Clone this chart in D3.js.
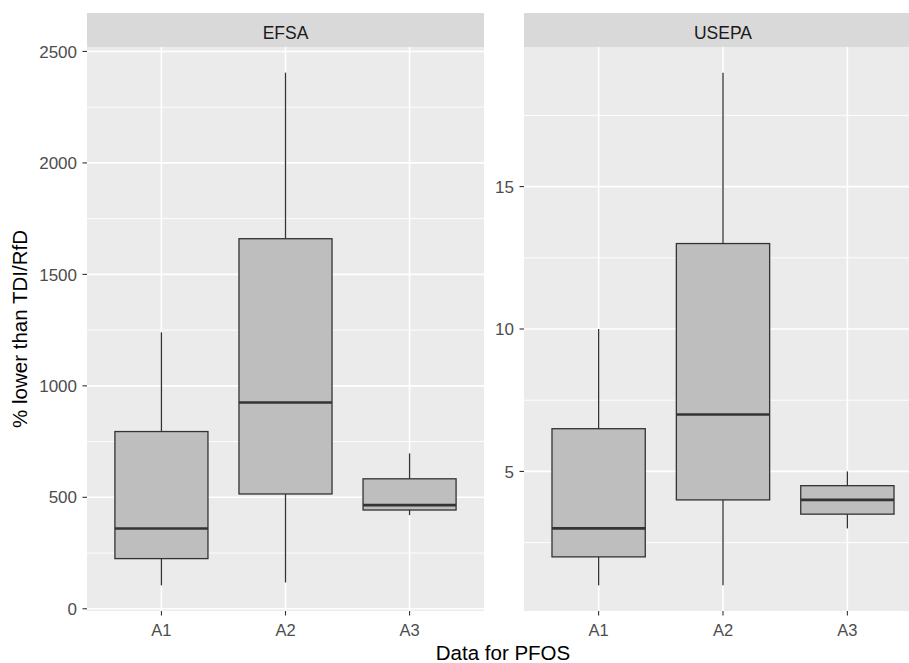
<!DOCTYPE html>
<html>
<head>
<meta charset="utf-8">
<script src="https://cdn.jsdelivr.net/npm/d3@7/dist/d3.min.js"></script>
<style>
  html, body { margin: 0; padding: 0; background: #ffffff; }
  svg { display: block; font-family: "Liberation Sans", Arial, sans-serif; }
</style>
</head>
<body>
<svg id="chart" width="909" height="663"></svg>
<script>
// ---- data ----
const categories = ["A1", "A2", "A3"];
const panels = ["EFSA", "USEPA"];

const efsaLower  = [105, 118, 420];
const efsaQ1     = [225, 515, 443];
const efsaMedian = [360, 925, 465];
const efsaQ3     = [795, 1660, 583];
const efsaUpper  = [1240, 2405, 697];

const usepaLower  = [1, 1, 3];
const usepaQ1     = [2, 4, 3.5];
const usepaMedian = [3, 7, 4];
const usepaQ3     = [6.5, 13, 4.5];
const usepaUpper  = [10, 19, 5];

const efsaTicks = [0, 500, 1000, 1500, 2000, 2500];
const efsaMinor = [250, 750, 1250, 1750, 2250];
const usepaTicks = [5, 10, 15];
const usepaMinor = [2.5, 7.5, 12.5, 17.5];

const xTitle = "Data for PFOS";
const yTitle = "% lower than TDI/RfD";

// ---- layout ----
const svg = d3.select("#chart");
const stripTop = 13, stripBottom = 47, panelBottom = 611;

const panelDefs = [
  { name: panels[0], x0: 87, x1: 484,
    lower: efsaLower, q1: efsaQ1, med: efsaMedian, q3: efsaQ3, upper: efsaUpper,
    ticks: efsaTicks, minor: efsaMinor },
  { name: panels[1], x0: 524, x1: 922,
    lower: usepaLower, q1: usepaQ1, med: usepaMedian, q3: usepaQ3, upper: usepaUpper,
    ticks: usepaTicks, minor: usepaMinor }
];

const tickColor = "#333333";
const tickText = "#4d4d4d";

panelDefs.forEach(p => {
  const lo = d3.min(p.lower), hi = d3.max(p.upper);
  const pad = (hi - lo) * 0.05;
  const y = d3.scaleLinear().domain([lo - pad, hi + pad]).range([panelBottom, stripBottom]);
  const x = d3.scalePoint().domain(categories).range([p.x0, p.x1]).padding(0.6);
  const step = x.step();
  const bw = step * 0.75;

  const g = svg.append("g");
  g.append("rect").attr("x", p.x0).attr("y", stripBottom)
    .attr("width", p.x1 - p.x0).attr("height", panelBottom - stripBottom)
    .attr("fill", "#ebebeb");
  g.selectAll(".minor").data(p.minor.filter(v => y(v) >= stripBottom && y(v) <= panelBottom)).enter()
    .append("line")
    .attr("x1", p.x0).attr("x2", p.x1)
    .attr("y1", d => y(d)).attr("y2", d => y(d))
    .attr("stroke", "#ffffff").attr("stroke-width", 0.9);
  g.selectAll(".major").data(p.ticks).enter()
    .append("line")
    .attr("x1", p.x0).attr("x2", p.x1)
    .attr("y1", d => y(d)).attr("y2", d => y(d))
    .attr("stroke", "#ffffff").attr("stroke-width", 1.6);
  g.selectAll(".vmajor").data(categories).enter()
    .append("line")
    .attr("x1", d => x(d)).attr("x2", d => x(d))
    .attr("y1", stripBottom).attr("y2", panelBottom)
    .attr("stroke", "#ffffff").attr("stroke-width", 1.6);

  g.append("rect").attr("x", p.x0).attr("y", stripTop)
    .attr("width", p.x1 - p.x0).attr("height", stripBottom - stripTop)
    .attr("fill", "#d9d9d9");
  g.append("text").attr("x", (p.x0 + p.x1) / 2).attr("y", 38.5)
    .attr("text-anchor", "middle").attr("font-size", 17.5).attr("fill", "#1a1a1a")
    .text(p.name);

  categories.forEach((c, i) => {
    const cx = x(c);
    const bg = g.append("g");
    bg.append("line").attr("x1", cx).attr("x2", cx)
      .attr("y1", y(p.upper[i])).attr("y2", y(p.q3[i]))
      .attr("stroke", tickColor).attr("stroke-width", 1.3);
    bg.append("line").attr("x1", cx).attr("x2", cx)
      .attr("y1", y(p.q1[i])).attr("y2", y(p.lower[i]))
      .attr("stroke", tickColor).attr("stroke-width", 1.3);
    bg.append("rect").attr("x", cx - bw / 2).attr("y", y(p.q3[i]))
      .attr("width", bw).attr("height", y(p.q1[i]) - y(p.q3[i]))
      .attr("fill", "#bebebe").attr("stroke", tickColor).attr("stroke-width", 1.3);
    bg.append("line").attr("x1", cx - bw / 2).attr("x2", cx + bw / 2)
      .attr("y1", y(p.med[i])).attr("y2", y(p.med[i]))
      .attr("stroke", tickColor).attr("stroke-width", 2.6);
  });

  const ya = g.append("g");
  p.ticks.forEach(t => {
    ya.append("line").attr("x1", p.x0 - 4.5).attr("x2", p.x0)
      .attr("y1", y(t)).attr("y2", y(t)).attr("stroke", tickColor).attr("stroke-width", 1.1);
    ya.append("text").attr("x", p.x0 - 10).attr("y", y(t)).attr("dy", "0.36em")
      .attr("text-anchor", "end").attr("font-size", 17).attr("fill", tickText).text(t);
  });
  categories.forEach(c => {
    g.append("line").attr("x1", x(c)).attr("x2", x(c))
      .attr("y1", panelBottom).attr("y2", panelBottom + 4.5)
      .attr("stroke", tickColor).attr("stroke-width", 1.1);
    g.append("text").attr("x", x(c)).attr("y", 636)
      .attr("text-anchor", "middle").attr("font-size", 16.5).attr("fill", tickText).text(c);
  });
});

svg.append("text").attr("x", 503).attr("y", 660)
  .attr("text-anchor", "middle").attr("font-size", 20.5).attr("fill", "#000").text(xTitle);
svg.append("text").attr("transform", "translate(27," + ((stripBottom + panelBottom) / 2) + ") rotate(-90)")
  .attr("text-anchor", "middle").attr("font-size", 20.5).attr("fill", "#000").text(yTitle);
</script>
</body>
</html>
